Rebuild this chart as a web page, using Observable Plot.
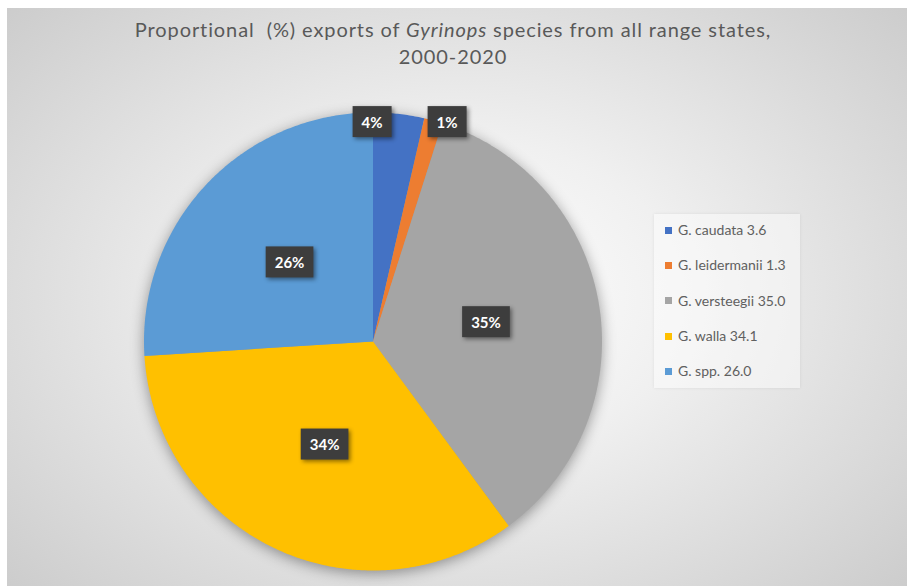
<!DOCTYPE html>
<html><head><meta charset="utf-8">
<script src="https://cdn.jsdelivr.net/npm/d3@7"></script>
<script src="https://cdn.jsdelivr.net/npm/@observablehq/plot@0.6"></script>
<style>
body{margin:0;background:#fff;font-family:Lato,"Open Sans",sans-serif;}
#frame{position:absolute;left:7px;top:8px;width:900px;height:578px;overflow:hidden;
 background:radial-gradient(ellipse 72% 78% at 50% 50%, #ffffff 0%, #f0f0f0 35%, #c9c9c9 100%);}
#title{position:absolute;left:0;top:8px;width:892px;text-align:center;font-size:20px;letter-spacing:0.9px;line-height:27px;color:#595959;}
#plot{position:absolute;left:0;top:70px;}
#legend{position:absolute;left:647px;top:206px;width:146px;height:174px;background:rgba(255,255,255,0.45);box-shadow:0 0 3px rgba(0,0,0,0.08);}
.item{position:absolute;left:11px;height:20px;font-size:14px;color:#606060;line-height:20px;white-space:nowrap}
.sw{display:inline-block;width:7px;height:7px;margin-right:6px;vertical-align:middle;position:relative;top:-1px}
#plot g[aria-label="line"]{filter:drop-shadow(0 3px 7px rgba(0,0,0,0.38));}
.lblbox{filter:drop-shadow(2px 2px 2px rgba(0,0,0,0.45));}
</style></head>
<body>
<div id="frame">
  <div id="title">Proportional&nbsp; (%) exports of <i>Gyrinops</i> species from all range states,<br>2000-2020</div>
  <div id="plot"></div>
  <div id="legend"></div>
</div>
<script>
const names = ["G. caudata","G. leidermanii","G. versteegii","G. walla","G. spp."];
const values = [3.6, 1.3, 35.0, 34.1, 26.0];
const colors = ["#4472C4","#ED7D31","#A5A5A5","#FFC000","#5B9BD5"];

const W = 900, H = 508, cx = 365.5, cy = 263, R = 229;

const arcs = d3.pie().sort(null).value(d => d)(values);

// slice outlines in unit-circle coordinates
const pts = [];
arcs.forEach((a, i) => {
  pts.push({name: names[i], x: 0, y: 0});
  const n = Math.ceil((a.endAngle - a.startAngle) / (Math.PI / 360)) + 1;
  for (let k = 0; k <= n; k++) {
    const t = a.startAngle + (a.endAngle - a.startAngle) * k / n;
    pts.push({name: names[i], x: Math.sin(t), y: Math.cos(t)});
  }
  pts.push({name: names[i], x: 0, y: 0});
});

// data labels
const labels = arcs.map((a, i) => {
  const mid = (a.startAngle + a.endAngle) / 2;
  const small = (a.endAngle - a.startAngle) < 0.3;
  const f = small ? 0.955 : 0.5;
  return {name: names[i], text: Math.round(values[i]) + "%", x: f * Math.sin(mid), y: f * Math.cos(mid), small};
});
// spread overlapping small labels horizontally
const sm = labels.filter(d => d.small).sort((a, b) => a.x - b.x);
const minSep = 75 / R;
for (let k = 1; k < sm.length; k++) {
  const a = sm[k - 1], b = sm[k];
  if (b.x - a.x < minSep) {
    const m = (a.x + b.x) / 2 - 0.02;
    a.x = m - minSep / 2; b.x = m + minSep / 2;
    const my = (a.y + b.y) / 2 + 0.02; a.y = my; b.y = my;
  }
}

const chart = Plot.plot({
  width: W, height: H, margin: 0,
  style: {background: "transparent", overflow: "visible"},
  x: {domain: [-1, 1], range: [cx - R, cx + R], axis: null},
  y: {domain: [-1, 1], range: [cy + R, cy - R], axis: null},
  color: {domain: names, range: colors},
  marks: [
    Plot.line(pts, {x: "x", y: "y", z: "name", fill: "name", stroke: "none"}),
    Plot.text(labels, {x: "x", y: "y", text: "text", fill: "white", fontWeight: "bold", fontSize: 15, fontFamily: "Lato, sans-serif"})
  ]
});
document.getElementById("plot").appendChild(chart);

// dark boxes behind data labels
const tg = chart.querySelector('g[aria-label="text"]');
tg.querySelectorAll("text").forEach(t => {
  const bb = t.getBBox();
  const padX = 9, h = 31;
  const r = document.createElementNS("http://www.w3.org/2000/svg", "rect");
  r.setAttribute("x", bb.x - padX);
  r.setAttribute("y", bb.y + bb.height / 2 - h / 2);
  r.setAttribute("width", bb.width + 2 * padX);
  r.setAttribute("height", h);
  r.setAttribute("fill", "#3d3d3d");
  r.setAttribute("class", "lblbox");
  const tr = t.getAttribute("transform");
  if (tr) r.setAttribute("transform", tr);
  tg.insertBefore(r, t);
});
tg.querySelectorAll("text").forEach(t => tg.appendChild(t));

// legend
const leg = document.getElementById("legend");
names.forEach((n, i) => {
  const d = document.createElement("div");
  d.className = "item";
  d.style.top = (6 + i * 35.25) + "px";
  d.innerHTML = `<span class="sw" style="background:${colors[i]}"></span>${n} ${values[i].toFixed(1)}`;
  leg.appendChild(d);
});
</script>
</body></html>
